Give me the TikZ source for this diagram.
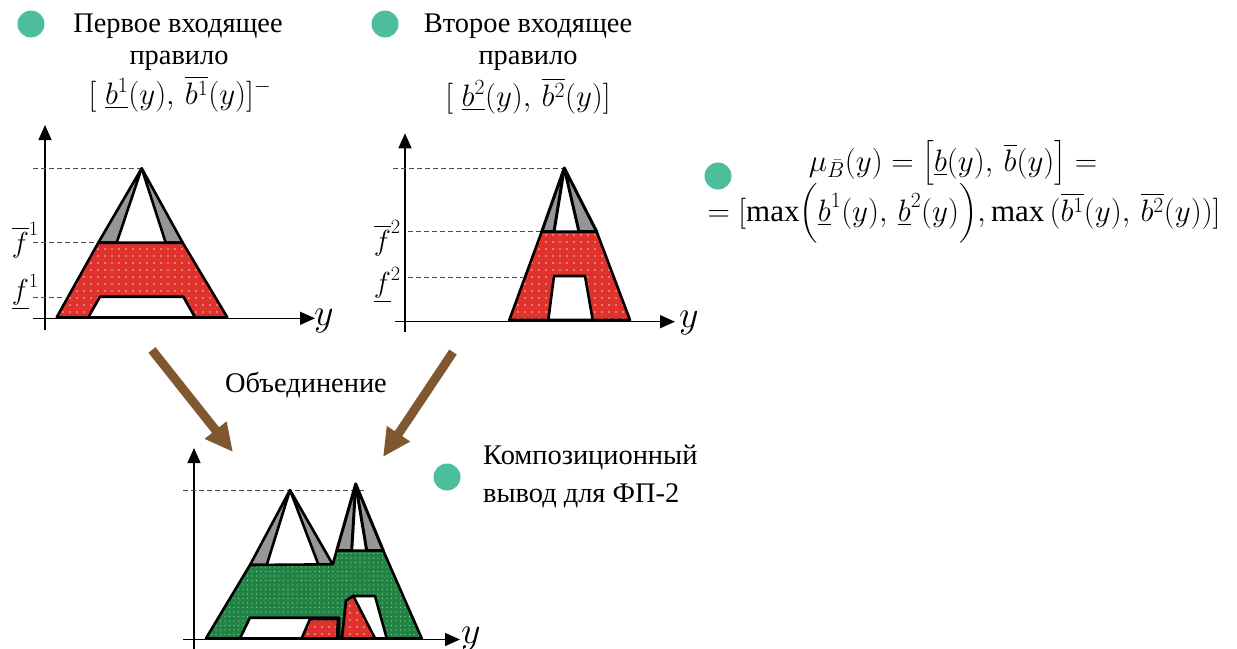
\RequirePackage{fix-cm}
\documentclass[tikz,border=0pt]{standalone}
\usepackage{amsmath}
\usepackage{fontspec}
\setmainfont{Liberation Serif}
\usetikzlibrary{arrows.meta,patterns.meta}

\definecolor{dotred}{RGB}{224,50,44}
\definecolor{dotgreen}{RGB}{34,132,68}
\definecolor{peakgray}{RGB}{150,150,150}
\definecolor{mint}{RGB}{76,190,156}
\definecolor{arrowbrown}{RGB}{128,88,48}

\begin{document}
\begin{tikzpicture}[
        x=1pt, y=-1pt,
        dot/.style={circle, fill=mint, draw=none, minimum size=27pt, inner sep=0pt},
        txt/.style={font=\fontsize{28.4}{33}\selectfont, inner sep=0pt, anchor=base},
        mtxt/.style={font=\fontsize{31}{33}\selectfont, inner sep=0pt, anchor=base},
        flab/.style={font=\fontsize{29}{30}\selectfont, inner sep=0pt, anchor=east},
        ylab/.style={font=\fontsize{38}{40}\selectfont, inner sep=0pt, anchor=base west},
        axis/.style={line width=1.4pt, -{Triangle[length=15pt,width=13pt]}},
        guide/.style={line width=1pt, dash pattern=on 5pt off 3pt, black!70},
        outline/.style={draw=black, line width=2.6pt, line join=round},
        grayfill/.style={outline, fill=peakgray},
        redfill/.style={outline, even odd rule,
            preaction={fill=dotred, even odd rule},
            pattern={Dots[distance=7pt,radius=0.8pt]}, pattern color=white!70!dotred},
        greenfill/.style={outline, even odd rule,
            preaction={fill=dotgreen, even odd rule},
            pattern={Dots[distance=4.5pt,radius=0.7pt]}, pattern color=white!55!dotgreen},
        bigarrow/.style={line width=9pt, arrowbrown, -{Triangle[length=28pt,width=26pt]}}
    ]
    \useasboundingbox (0,0) rectangle (1237,648);

    % Подписи правил
    \node[dot] (d1) at (31,24) {};
    \node[txt] (r1a) at (178,32) {Первое входящее};
    \node[txt] (r1b) at (179,64) {правило};
    \node[mtxt] (r1c) at (180,104) {$[\;\underline{b^1}(y),\,\overline{b^1}(y)]^{-}$};

    \node[dot] (d2) at (385,24) {};
    \node[txt] (r2a) at (528,32) {Второе входящее};
    \node[txt] (r2b) at (528,64) {правило};
    \node[mtxt] (r2c) at (528,106) {$[\;\underline{b^2}(y),\,\overline{b^2}(y)]$};

    % Формула
    \node[dot] (d3) at (718,176) {};
    \node[mtxt] (m1) at (953,171) {$\mu_{\bar B}(y) = \bigl[\underline{b}(y),\,\overline{b}(y)\bigr] =$};
    \node[mtxt] (m2) at (964,221) {$= [\max\Bigl(\underline{b}^1(y),\,\underline{b}^2(y)\Bigr),\max\,(\overline{b^1}(y),\,\overline{b^2}(y))]$};

    % Первое правило
    \coordinate (p1) at (141.7,168.3);
    \draw[axis] (45,330) -- (45,125);
    \draw[axis] (33,318.3) -- (315,318.3);
    \node[ylab] (y1) at (314,325) {$y$};
    \draw[guide] (33,168.3) -- (p1);
    \draw[guide] (33,242.7) -- (98.3,242.7);
    \draw[guide] (33,297.3) -- (62,297.3);
    \node[flab] (fu1) at (39,240) {$\overline{f}^{1}$};
    \node[flab] (fl1) at (39,292) {$\underline{f}^{1}$};
    \filldraw[grayfill] (98.3,242.7) -- (p1) -- (116.7,242.7) -- cycle;
    \filldraw[grayfill] (165.7,242.7) -- (p1) -- (182.7,242.7) -- cycle;
    \path[redfill] (56.7,317.3) -- (98.3,242.7) -- (182.7,242.7) -- (227.3,317.3) -- cycle
        (88.3,317.3) -- (100,296.7) -- (183.3,296.7) -- (195,317.3) -- cycle;

    % Второе правило
    \coordinate (p2) at (564.3,168);
    \draw[axis] (405,331.7) -- (405,133.3);
    \draw[axis] (395,321.7) -- (675,321.7);
    \node[ylab] (y2) at (679,327) {$y$};
    \draw[guide] (393,168) -- (p2);
    \draw[guide] (408,231.7) -- (541.7,231.7);
    \draw[guide] (408,277.3) -- (523,277.3);
    \node[flab] (fu2) at (401,238) {$\overline{f}^{2}$};
    \node[flab] (fl2) at (401,285) {$\underline{f}^{2}$};
    \filldraw[grayfill, line width=3pt] (541.7,231.7) -- (p2) -- (554,231.7) -- cycle;
    \filldraw[grayfill, line width=3pt] (579,231.7) -- (p2) -- (596.7,231.7) -- cycle;
    \path[redfill] (509.3,320) -- (541.7,231.7) -- (596.7,231.7) -- (630,320) -- cycle
        (548.3,320) -- (554,276) -- (585,276) -- (592.7,320) -- cycle;

    % Объединение
    \node[txt] (un) at (306,392) {Объединение};
    \coordinate (a1s) at (152,350);
    \coordinate (a1e) at (233,452);
    \coordinate (a2s) at (453,352);
    \coordinate (a2e) at (383,457);
    \draw[bigarrow] (a1s) -- (a1e);
    \draw[bigarrow] (a2s) -- (a2e);

    % Композиционный вывод
    \node[dot] (d4) at (447,477) {};
    \node[txt, anchor=base west] (c1) at (483,464) {Композиционный};
    \node[txt, anchor=base west] (c2) at (483,502) {вывод для ФП-2};

    \coordinate (p3) at (290,490);
    \coordinate (p4) at (355.7,484);
    \draw[axis] (194,660) -- (194,448);
    \draw[axis] (183,639.5) -- (460,639.5);
    \node[ylab] (y3) at (461,643) {$y$};
    \draw[guide] (183,490) -- (365,490);
    \filldraw[grayfill] (250,565) -- (p3) -- (266.7,565) -- cycle;
    \filldraw[grayfill] (318.3,564.3) -- (p3) -- (332.7,564.3) -- cycle;
    \filldraw[grayfill, line width=3pt] (336.7,550.7) -- (p4) -- (351.7,550.7) -- cycle;
    \filldraw[grayfill, line width=3pt] (366.7,550.7) -- (p4) -- (383.3,550.7) -- cycle;
    \path[greenfill] (206,638.3) -- (250,565) -- (332.7,564.3) -- (336.7,550.7)
        -- (383.3,550.7) -- (421.7,638.3) -- cycle
        (240,638.3) -- (250,617.7) -- (339,617.7) -- (339,638.3) -- cycle
        (342,638.3) -- (346,600.7) -- (353.3,596) -- (375,596) -- (386.7,638.3) -- cycle;
    \path[redfill] (301.7,638.3) -- (310,619) -- (338,619) -- (337,638.3) -- cycle;
    \path[redfill] (342,638.3) -- (346,600.7) -- (353.3,596) -- (375,638.3) -- cycle;

\end{tikzpicture}
\end{document}
